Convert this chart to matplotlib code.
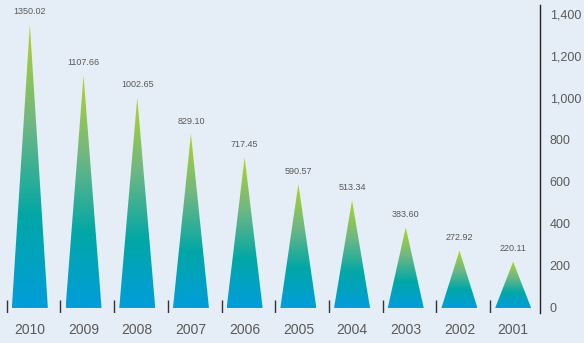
import matplotlib.pyplot as plt
import numpy as np
from matplotlib.colors import LinearSegmentedColormap
from matplotlib.patches import Polygon
from matplotlib.ticker import FuncFormatter

years = ["2010", "2009", "2008", "2007", "2006", "2005", "2004", "2003", "2002", "2001"]
values = [1350.02, 1107.66, 1002.65, 829.10, 717.45, 590.57, 513.34, 383.60, 272.92, 220.11]
value_labels = ["1350.02", "1107.66", "1002.65", "829.10", "717.45",
                "590.57", "513.34", "383.60", "272.92", "220.11"]

BG = "#E5EDF7"
TEXT = "#5A5A5A"

plt.rcParams["font.family"] = ["Liberation Sans", "DejaVu Sans"]

# blue at the base fading through teal into lime at the tip
spike_cmap = LinearSegmentedColormap.from_list(
    "spike", [(0.0, "#009DDB"), (0.32, "#00A7A6"), (0.65, "#6FB783"), (1.0, "#B2D22A")])


def draw_spike(ax, x, height, half_width):
    tri = Polygon([(x - half_width, 0), (x + half_width, 0), (x, height)],
                  closed=True, facecolor="none", edgecolor="none")
    ax.add_patch(tri)
    grad = np.linspace(0, 1, 256).reshape(-1, 1)
    img = ax.imshow(grad, cmap=spike_cmap, origin="lower", aspect="auto",
                    extent=(x - half_width, x + half_width, 0, height),
                    interpolation="bilinear", zorder=2)
    img.set_clip_path(tri)


def main():
    fig = plt.figure(figsize=(5.84, 3.43), dpi=100, facecolor=BG)
    ax = fig.add_axes([3 / 584, 30 / 343, 537 / 584, 308 / 343])
    ax.set_facecolor(BG)

    x = np.arange(len(years))
    for xi, v, lab in zip(x, values, value_labels):
        draw_spike(ax, xi, v, 0.335)
        ax.annotate(lab, (xi, v), xytext=(0, 6), textcoords="offset points",
                    ha="center", va="bottom", fontsize=6.5, color=TEXT)

    # short separators to the left of every year
    for xi in x:
        ax.plot([xi - 0.43, xi - 0.43], [-24, 38], color="#333333", lw=1.0,
                solid_capstyle="butt", zorder=3)
        ax.text(xi, -105, years[xi], ha="center", va="center", fontsize=10, color=TEXT)

    ax.set_xlim(-0.5, len(years) - 0.5)
    ax.set_ylim(-24, 1443)

    for side in ["top", "left", "bottom"]:
        ax.spines[side].set_visible(False)
    ax.spines["right"].set_color("#222222")
    ax.spines["right"].set_linewidth(1.0)

    ax.yaxis.tick_right()
    ax.set_yticks(np.arange(0, 1401, 200))
    ax.yaxis.set_major_formatter(FuncFormatter(lambda v, p: f"{int(v):,}"))
    ax.tick_params(axis="y", length=0, pad=7, labelsize=9, labelcolor=TEXT)
    ax.set_xticks([])

    fig.savefig("out.png", dpi=100, facecolor=BG)


if __name__ == "__main__":
    main()
